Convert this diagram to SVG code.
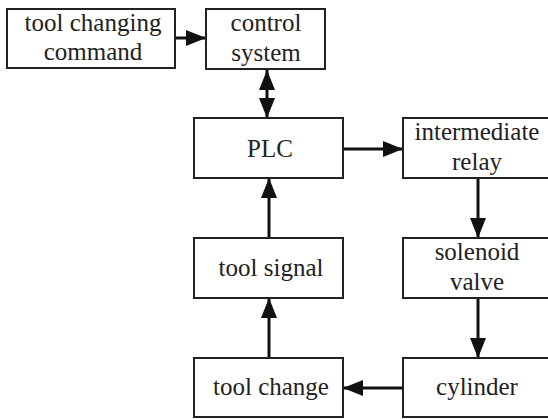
<svg xmlns="http://www.w3.org/2000/svg" width="548" height="419" viewBox="0 0 548 419">
<style>
.box{fill:#fff;stroke:#222;stroke-width:2}
.t{font-family:'Liberation Serif','Times New Roman',Times,'DejaVu Serif',serif;font-size:25px;fill:#222;text-anchor:middle}
.c{stroke:#111;stroke-width:3;fill:none}
</style>
<defs>
<marker id="ah" markerUnits="userSpaceOnUse" markerWidth="22" markerHeight="18" refX="20" refY="8" orient="auto">
<path d="M0,0 L20,8 L0,16 Z" fill="#111"/>
</marker>
<marker id="as" markerUnits="userSpaceOnUse" markerWidth="22" markerHeight="18" refX="0" refY="8" orient="auto">
<path d="M20,0 L0,8 L20,16 Z" fill="#111"/>
</marker>
</defs>
<rect width="548" height="419" fill="#fff"/>
<g id="connectors">
<line class="c" x1="175" y1="38" x2="206" y2="38" marker-end="url(#ah)"/>
<line class="c" x1="267" y1="70" x2="267" y2="118" marker-start="url(#as)" marker-end="url(#ah)"/>
<line class="c" x1="343" y1="149" x2="403" y2="149" marker-end="url(#ah)"/>
<line class="c" x1="478" y1="178" x2="478" y2="238" marker-end="url(#ah)"/>
<line class="c" x1="478" y1="298" x2="478" y2="358" marker-end="url(#ah)"/>
<line class="c" x1="403" y1="388" x2="343" y2="388" marker-end="url(#ah)"/>
<line class="c" x1="269" y1="358" x2="269" y2="298" marker-end="url(#ah)"/>
<line class="c" x1="269" y1="238" x2="269" y2="178" marker-end="url(#ah)"/>
</g>
<g id="cmd"><rect class="box" x="7" y="9" width="168" height="59"/><text class="t" x="93" y="31">tool changing</text><text class="t" x="93" y="60">command</text></g>
<g id="ctrl"><rect class="box" x="206" y="9" width="119" height="60"/><text class="t" x="266" y="31">control</text><text class="t" x="266" y="61">system</text></g>
<g id="plc"><rect class="box" x="194" y="118" width="149" height="60"/><text class="t" x="270" y="157">PLC</text></g>
<g id="relay"><rect class="box" x="403" y="118" width="148" height="60"/><text class="t" x="477" y="140">intermediate</text><text class="t" x="477" y="170">relay</text></g>
<g id="signal"><rect class="box" x="194" y="238" width="149" height="60"/><text class="t" x="271" y="276">tool signal</text></g>
<g id="valve"><rect class="box" x="403" y="238" width="148" height="60"/><text class="t" x="477" y="260">solenoid</text><text class="t" x="477" y="290">valve</text></g>
<g id="change"><rect class="box" x="194" y="358" width="149" height="59"/><text class="t" x="271" y="395">tool change</text></g>
<g id="cyl"><rect class="box" x="403" y="358" width="148" height="59"/><text class="t" x="477" y="395">cylinder</text></g>
</svg>
